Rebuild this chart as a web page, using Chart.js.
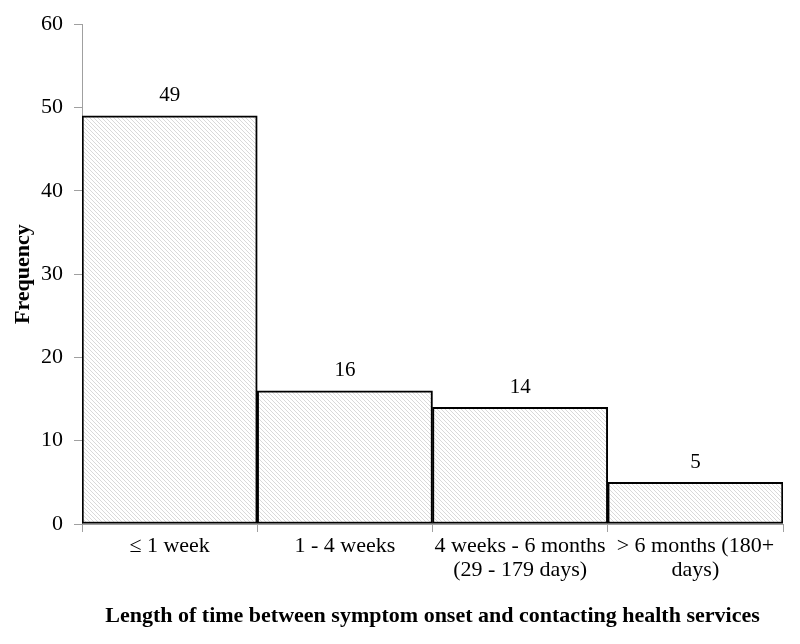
<!DOCTYPE html>
<html>
<head>
<meta charset="utf-8">
<script src="https://cdn.jsdelivr.net/npm/chart.js@4"></script>
<style>
  html, body { margin: 0; padding: 0; background: #fff; }
  #wrap { width: 800px; height: 644px; }
</style>
</head>
<body>
<div id="wrap"><canvas id="chart_time"></canvas></div>
<script>
// 데이터
var categories = [
    ["\u2264 1 week"],
    ["1 - 4 weeks"],
    ["4 weeks - 6 months", "(29 - 179 days)"],
    ["> 6 months (180+", "days)"]
];
var frequency = [49, 16, 14, 5];
var yTicks = [0, 10, 20, 30, 40, 50, 60];

var fontFamily = "'Liberation Serif', 'Times New Roman', serif";

// 빗금 패턴
function makeHatch() {
    var c = document.createElement("canvas");
    c.width = 4; c.height = 4;
    var g = c.getContext("2d");
    g.fillStyle = "#ffffff";
    g.fillRect(0, 0, 4, 4);
    g.strokeStyle = "#cfcfcf";
    g.lineWidth = 0.8;
    g.beginPath();
    g.moveTo(-1, -1); g.lineTo(5, 5);
    g.moveTo(-1, 3); g.lineTo(1, 5);
    g.moveTo(3, -1); g.lineTo(5, 1);
    g.stroke();
    return g.createPattern(c, "repeat");
}

// 막대 위 값 표시
var valueLabels = {
    id: "valueLabels",
    afterDatasetsDraw: function (chart) {
        var ctx = chart.ctx;
        var meta = chart.getDatasetMeta(0);
        ctx.save();
        ctx.font = "21px " + fontFamily;
        ctx.fillStyle = "#000";
        ctx.textAlign = "center";
        ctx.textBaseline = "middle";
        meta.data.forEach(function (bar, i) {
            ctx.fillText(frequency[i], bar.x, bar.y - 20);
        });
        ctx.restore();
    }
};

var Chart_time = new Chart(document.getElementById("chart_time"), {
    type: "bar",
    data: {
        labels: categories,
        datasets: [{
            data: frequency,
            backgroundColor: makeHatch(),
            borderColor: "#000",
            borderWidth: 2,
            borderSkipped: false,
            barPercentage: 1,
            categoryPercentage: 1
        }]
    },
    options: {
        responsive: true,
        maintainAspectRatio: false,
        animation: false,
        layout: { padding: { top: 23, right: 17, left: 0, bottom: 10 } },
        plugins: {
            legend: { display: false },
            tooltip: { enabled: false }
        },
        scales: {
            x: {
                grid: {
                    display: true,
                    drawOnChartArea: false,
                    offset: true,
                    color: "#a0a0a0",
                    tickLength: 8
                },
                border: { color: "#a0a0a0" },
                ticks: {
                    color: "#000",
                    font: { family: fontFamily, size: 22, lineHeight: 1.1 },
                    padding: 2,
                    maxRotation: 0
                },
                title: {
                    display: true,
                    text: "Length of time between symptom onset and contacting health services",
                    color: "#000",
                    font: { family: fontFamily, size: 22, weight: "bold" },
                    padding: { top: 8 }
                },
                afterFit: function (scale) { scale.height = 110; }
            },
            y: {
                min: 0,
                max: 60,
                afterBuildTicks: function (scale) {
                    scale.ticks = yTicks.map(function (v) { return { value: v }; });
                },
                grid: {
                    display: true,
                    drawOnChartArea: false,
                    color: "#a0a0a0",
                    tickLength: 8
                },
                border: { color: "#a0a0a0" },
                ticks: {
                    color: "#000",
                    font: { family: fontFamily, size: 22 },
                    padding: 11
                },
                title: {
                    display: true,
                    text: "Frequency",
                    color: "#000",
                    font: { family: fontFamily, size: 22, weight: "bold" },
                    padding: { top: 10, bottom: 4 }
                },
                afterFit: function (scale) { scale.width = 82; }
            }
        }
    },
    plugins: [valueLabels]
});
</script>
</body>
</html>
